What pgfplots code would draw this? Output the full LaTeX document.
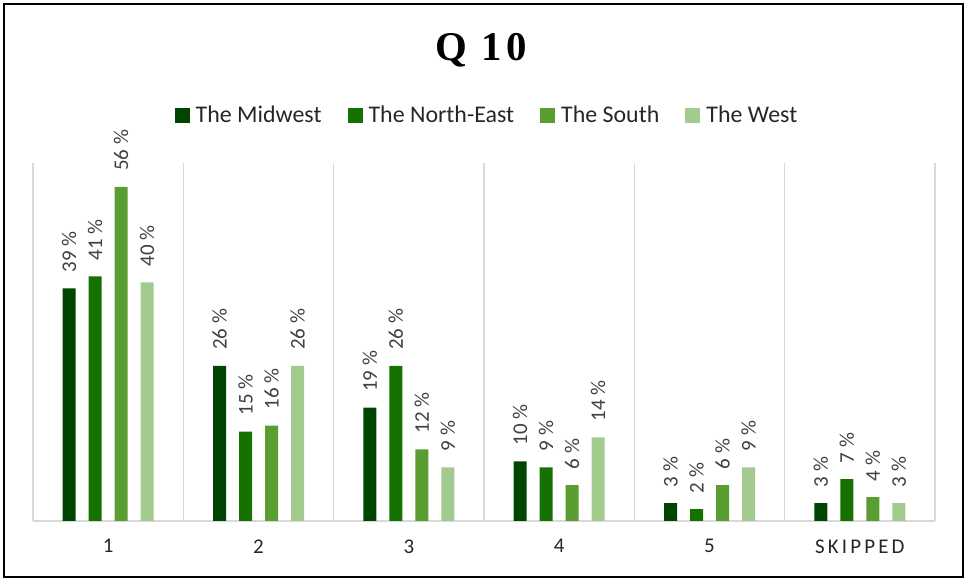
\documentclass[border=0pt]{standalone}
\usepackage{pgfplots}
\pgfplotsset{compat=1.18}
\usepackage{pgfplotstable}
\usepackage{fontspec}
\setmainfont{Carlito}
\newfontfamily\titlefont{Liberation Serif}

\definecolor{midwest}{RGB}{0,70,0}
\definecolor{northeast}{RGB}{22,114,0}
\definecolor{south}{RGB}{90,158,50}
\definecolor{west}{RGB}{163,203,143}
\definecolor{gridgray}{RGB}{217,217,217}
\definecolor{labelgray}{RGB}{64,64,64}

% share of answers per region, in percent
\pgfplotstableread{
x mw ne so we
0 39 41 56 40
1 26 15 16 26
2 19 26 12 9
3 10 9 6 14
4 3 2 6 9
5 3 7 4 3
}\qten

\begin{document}
\begin{tikzpicture}
\useasboundingbox (-33bp,-60bp) rectangle (934bp,521bp);
\draw[black, line width=2bp] (-29bp,-56bp) rectangle (930bp,517bp);
\node[font=\titlefont\bfseries\fontsize{41}{44}\selectfont, anchor=base] at (448bp,460bp) {Q\hspace{0.35em}1\hspace{0.1em}0};
\begin{axis}[
    scale only axis,
    width=902bp, height=358bp,
    at={(0,0)}, anchor=south west,
    ybar=13bp, bar width=13bp,
    ymin=0, ymax=60,
    xmin=-0.5, xmax=5.5,
    axis x line=bottom,
    axis y line=none,
    axis line style={draw=gridgray, line width=1.6bp, -},
    xtick={0,...,5},
    xticklabels={1,2,3,4,5,{\addfontfeature{LetterSpace=15}SKIPPED}},
    minor xtick={-0.5,0.5,...,5.5},
    xminorgrids,
    minor grid style={draw=gridgray, line width=1.6bp},
    major tick length=0pt, minor tick length=0pt,
    ytick=\empty,
    xticklabel style={font=\fontsize{21}{24}\selectfont, text=black!85, yshift=-15bp},
    /pgf/number format/assume math mode=true,
    nodes near coords={\pgfmathprintnumber{\pgfplotspointmeta} \%},
    every node near coord/.append style={rotate=90, anchor=west, inner sep=0pt, outer xsep=16bp,
        font=\fontsize{21}{24}\selectfont, text=labelgray},
    legend columns=4,
    legend image code/.code={\fill[#1] (0bp,-7.5bp) rectangle (15bp,7.5bp);},
    legend style={at={(0.5,1)}, anchor=center, xshift=3bp, yshift=48bp, draw=none,
        font=\fontsize{24}{28}\selectfont, text=black!85,
        /tikz/every odd column/.append style={column sep=4bp},
        /tikz/every even column/.append style={column sep=24bp}},
]
\addplot[fill=midwest, draw=none] table[x=x, y=mw] {\qten};
\addlegendentry{The Midwest}
\addplot[fill=northeast, draw=none] table[x=x, y=ne] {\qten};
\addlegendentry{The North-East}
\addplot[fill=south, draw=none] table[x=x, y=so] {\qten};
\addlegendentry{The South}
\addplot[fill=west, draw=none] table[x=x, y=we] {\qten};
\addlegendentry{The West}
\end{axis}
\end{tikzpicture}
\end{document}
